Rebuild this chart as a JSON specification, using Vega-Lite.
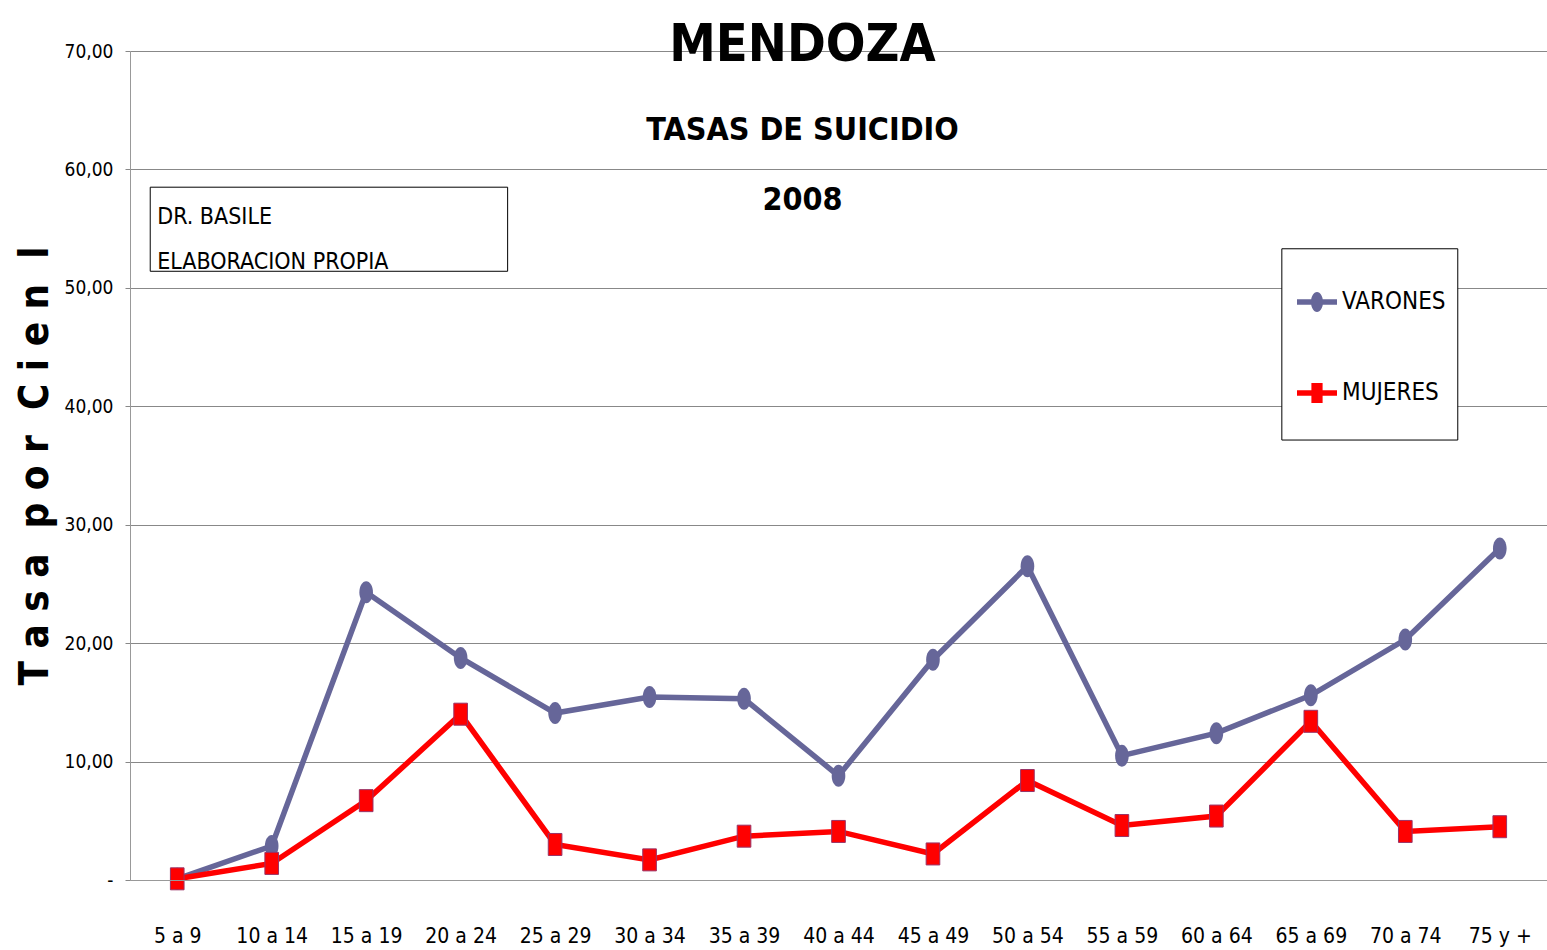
{
  "$schema": "https://vega.github.io/schema/vega-lite/v6.json",
  "width": 1417,
  "height": 829,
  "autosize": "none",
  "padding": {"left": 130, "top": 51, "right": 0, "bottom": 70},
  "background": "white",
  "config": {
    "font": "DejaVu Sans Condensed, Liberation Sans, sans-serif",
    "view": {"stroke": null}
  },
  "title": {
    "text": "MENDOZA",
    "subtitle": ["TASAS DE SUICIDIO", "2008"],
    "anchor": "middle",
    "frame": "group",
    "font": "DejaVu Sans Condensed, Liberation Sans, sans-serif",
    "fontSize": 52,
    "fontWeight": "bold",
    "color": "black",
    "subtitleFont": "DejaVu Sans Condensed, Liberation Sans, sans-serif",
    "subtitleFontSize": 32,
    "subtitleFontWeight": "bold",
    "subtitleColor": "black",
    "subtitleLineHeight": 70,
    "subtitlePadding": 43,
    "offset": -175,
    "dx": -36
  },
  "datasets": {
    "tasas": [
      {"grupo": "5 a 9", "serie": "VARONES", "tasa": 0.1},
      {"grupo": "10 a 14", "serie": "VARONES", "tasa": 2.87},
      {"grupo": "15 a 19", "serie": "VARONES", "tasa": 24.3},
      {"grupo": "20 a 24", "serie": "VARONES", "tasa": 18.75},
      {"grupo": "25 a 29", "serie": "VARONES", "tasa": 14.1},
      {"grupo": "30 a 34", "serie": "VARONES", "tasa": 15.45},
      {"grupo": "35 a 39", "serie": "VARONES", "tasa": 15.3},
      {"grupo": "40 a 44", "serie": "VARONES", "tasa": 8.8},
      {"grupo": "45 a 49", "serie": "VARONES", "tasa": 18.6},
      {"grupo": "50 a 54", "serie": "VARONES", "tasa": 26.5},
      {"grupo": "55 a 59", "serie": "VARONES", "tasa": 10.5},
      {"grupo": "60 a 64", "serie": "VARONES", "tasa": 12.4},
      {"grupo": "65 a 69", "serie": "VARONES", "tasa": 15.6},
      {"grupo": "70 a 74", "serie": "VARONES", "tasa": 20.3},
      {"grupo": "75 y +", "serie": "VARONES", "tasa": 28.0},
      {"grupo": "5 a 9", "serie": "MUJERES", "tasa": 0.1},
      {"grupo": "10 a 14", "serie": "MUJERES", "tasa": 1.4},
      {"grupo": "15 a 19", "serie": "MUJERES", "tasa": 6.7},
      {"grupo": "20 a 24", "serie": "MUJERES", "tasa": 14.0},
      {"grupo": "25 a 29", "serie": "MUJERES", "tasa": 3.0},
      {"grupo": "30 a 34", "serie": "MUJERES", "tasa": 1.7},
      {"grupo": "35 a 39", "serie": "MUJERES", "tasa": 3.7},
      {"grupo": "40 a 44", "serie": "MUJERES", "tasa": 4.1},
      {"grupo": "45 a 49", "serie": "MUJERES", "tasa": 2.2},
      {"grupo": "50 a 54", "serie": "MUJERES", "tasa": 8.4},
      {"grupo": "55 a 59", "serie": "MUJERES", "tasa": 4.6},
      {"grupo": "60 a 64", "serie": "MUJERES", "tasa": 5.4},
      {"grupo": "65 a 69", "serie": "MUJERES", "tasa": 13.4},
      {"grupo": "70 a 74", "serie": "MUJERES", "tasa": 4.1},
      {"grupo": "75 y +", "serie": "MUJERES", "tasa": 4.5}
    ],
    "notas": [
      {"nota": "DR. BASILE\nELABORACION PROPIA"}
    ]
  },
  "layer": [
    {
      "data": {"name": "notas"},
      "mark": {"type": "rect", "fill": "white", "stroke": "black", "strokeWidth": 1, "xOffset": -27, "x2Offset": 47},
      "encoding": {
        "x": {
          "datum": "5 a 9",
          "type": "ordinal",
          "scale": {
            "type": "point",
            "padding": 0.5,
            "domain": ["5 a 9", "10 a 14", "15 a 19", "20 a 24", "25 a 29", "30 a 34", "35 a 39", "40 a 44", "45 a 49", "50 a 54", "55 a 59", "60 a 64", "65 a 69", "70 a 74", "75 y +"]
          },
          "axis": {
            "title": null,
            "labelAngle": 0,
            "labelFontSize": 21,
            "labelColor": "black",
            "labelPadding": 45,
            "ticks": false,
            "domain": true,
            "domainColor": "#999999",
            "grid": false
          }
        },
        "x2": {"datum": "20 a 24"},
        "y": {
          "datum": 58.5,
          "type": "quantitative",
          "scale": {"domain": [0, 70], "nice": false},
          "axis": {
            "title": "T a s a \u00a0p o r \u00a0C i e n \u00a0l",
            "titleFontSize": 40,
            "titleFontWeight": "bold",
            "titleColor": "black",
            "titlePadding": 9,
            "values": [0, 10, 20, 30, 40, 50, 60, 70],
            "labelExpr": "datum.value === 0 ? '-' : replace(format(datum.value, '.2f'), '.', ',')",
            "labelFontSize": 19,
            "labelColor": "black",
            "labelPadding": 12,
            "tickSize": 5,
            "tickColor": "#888888",
            "domainColor": "#999999",
            "grid": true,
            "gridColor": "#888888",
            "gridWidth": 1
          }
        },
        "y2": {"datum": 51.4}
      }
    },
    {
      "data": {"name": "notas"},
      "mark": {"type": "text", "align": "left", "baseline": "middle", "dx": -20, "fontSize": 23, "lineHeight": 45, "color": "black", "lineBreak": "\n"},
      "encoding": {
        "x": {"datum": "5 a 9", "type": "ordinal"},
        "y": {"datum": 56.0, "type": "quantitative"},
        "text": {"field": "nota", "type": "nominal"}
      }
    },
    {
      "data": {"name": "notas"},
      "mark": {"type": "rect", "fill": "white", "stroke": "black", "strokeWidth": 1, "xOffset": -29, "x2Offset": -42},
      "encoding": {
        "x": {"datum": "65 a 69", "type": "ordinal"},
        "x2": {"datum": "75 y +"},
        "y": {"datum": 53.3, "type": "quantitative"},
        "y2": {"datum": 37.15}
      }
    },
    {
      "data": {"name": "tasas"},
      "mark": {"type": "line", "strokeWidth": 5.5},
      "encoding": {
        "x": {"field": "grupo", "type": "ordinal"},
        "y": {"field": "tasa", "type": "quantitative"},
        "color": {
          "field": "serie",
          "type": "nominal",
          "scale": {"domain": ["VARONES", "MUJERES"], "range": ["#666699", "#FF0000"]},
          "legend": {
            "title": null,
            "orient": "none",
            "legendX": 1153,
            "legendY": 217,
            "direction": "vertical",
            "strokeColor": null,
            "fillColor": null,
            "padding": 14,
            "rowPadding": 59,
            "labelFontSize": 24,
            "labelColor": "black",
            "labelOffset": 5,
            "symbolSize": 1600,
            "symbolType": "M-1,-0.13H1V0.13H-1Z",
            "offset": 0,
            "labelLimit": 200,
            "encode": {
              "symbols": {
                "update": {
                  "shape": {"signal": "datum.value === 'VARONES' ? 'M-1,-0.14H1V0.14H-1Z M0,-0.5 A0.3,0.5 0 1,1 0,0.5 A0.3,0.5 0 1,1 0,-0.5 Z' : 'M-1,-0.14H1V0.14H-1Z M-0.28,-0.5H0.28V0.5H-0.28Z'"},
                  "fill": {"signal": "datum.value === 'VARONES' ? '#666699' : '#FF0000'"},
                  "stroke": {"value": "transparent"},
                  "strokeWidth": {"value": 0}
                }
              }
            }
          }
        }
      }
    },
    {
      "data": {"name": "tasas"},
      "transform": [{"filter": "datum.serie === 'VARONES'"}],
      "mark": {"type": "point", "filled": true, "opacity": 1, "size": 484, "strokeWidth": 0, "shape": "M0,-1 A0.62,1 0 1,1 0,1 A0.62,1 0 1,1 0,-1 Z"},
      "encoding": {
        "x": {"field": "grupo", "type": "ordinal"},
        "y": {"field": "tasa", "type": "quantitative"},
        "color": {"field": "serie", "type": "nominal", "legend": null}
      }
    },
    {
      "data": {"name": "tasas"},
      "transform": [{"filter": "datum.serie === 'MUJERES'"}],
      "mark": {"type": "point", "filled": true, "opacity": 1, "size": 484, "stroke": "#993366", "strokeWidth": 1, "shape": "M-0.62,-1H0.62V1H-0.62Z"},
      "encoding": {
        "x": {"field": "grupo", "type": "ordinal"},
        "y": {"field": "tasa", "type": "quantitative"},
        "color": {"field": "serie", "type": "nominal", "legend": null}
      }
    }
  ]
}
